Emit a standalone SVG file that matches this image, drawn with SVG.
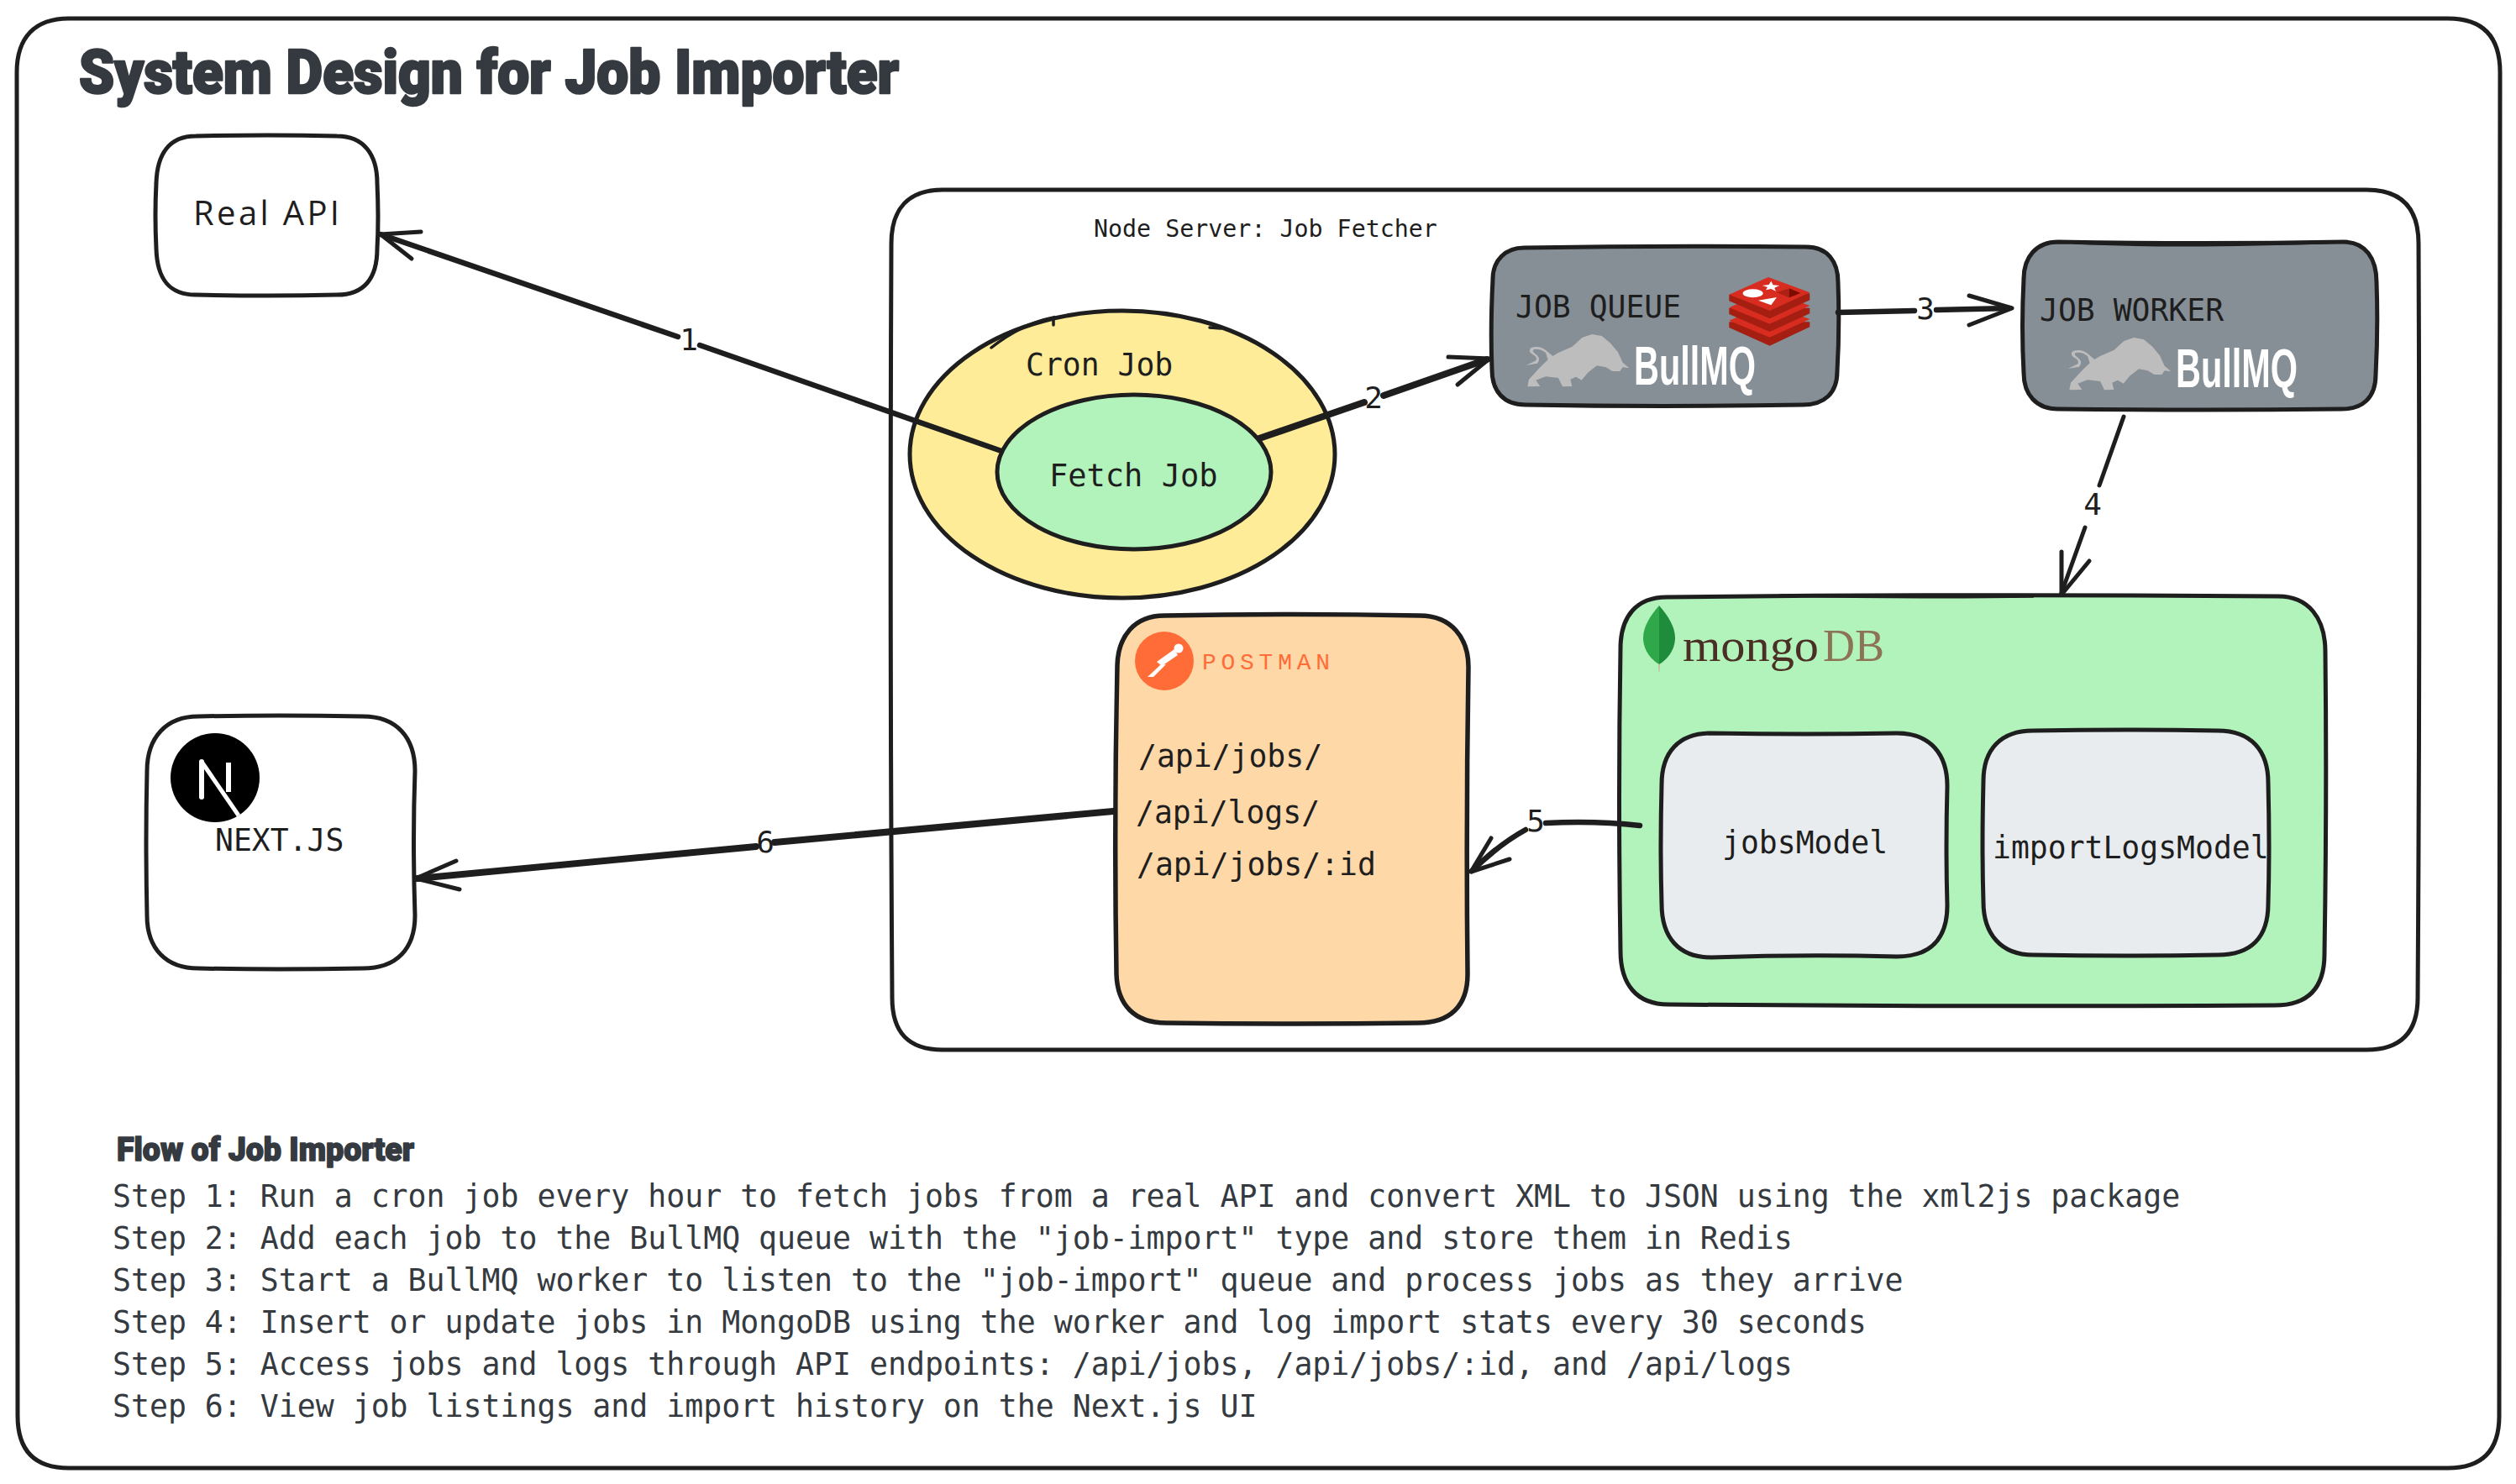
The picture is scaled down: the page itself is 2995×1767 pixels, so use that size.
<svg xmlns="http://www.w3.org/2000/svg" width="2995" height="1767" viewBox="0 0 2995 1767">
<style>
.box{stroke:#1e1e1e;stroke-width:5;fill:none;stroke-linejoin:round}
.conn{stroke:#1e1e1e;stroke-width:6.5;fill:none;stroke-linecap:round;stroke-linejoin:round}
.tip{stroke-width:5}
.thick{stroke-width:8}
.accent{stroke:#1e1e1e;stroke-width:3.5;fill:none;stroke-linecap:round}
.mono{font-family:"DejaVu Sans Mono","Liberation Mono",monospace;font-size:36.4px;fill:#1e1e1e}
.step{font-family:"DejaVu Sans Mono","Liberation Mono",monospace;font-size:36.5px;fill:#343a40}
.lbl{font-family:"DejaVu Sans Mono","Liberation Mono",monospace;font-size:36px;fill:#1e1e1e;text-anchor:middle}
.head{font-family:Roboto,"Liberation Sans",sans-serif;font-weight:900;fill:#343a40;stroke:#343a40;stroke-linejoin:round}
.bull{font-family:"Liberation Sans",Roboto,sans-serif;font-weight:700;font-size:65px;fill:#fff}
</style>
<defs>
<g id="bullmq">
<path fill="#bdbdbd" d="M50 345 L85 328 Q92 315 72 305 Q55 295 68 282 Q100 272 125 295 L145 312 L165 300 L215 278 L250 246 L285 234 L320 240 L350 265 L378 298 L395 335 L418 355 L395 352 L385 366 L358 366 L335 352 L303 346 L272 370 L248 398 L228 386 L208 395 L214 420 L180 421 L165 390 L120 385 L85 398 L100 420 L55 421 L60 395 L100 352 L128 325 L120 300 Q100 284 78 288 Q68 295 85 305 Q105 320 90 338 Z"/>
</g>
<g id="redislogo">
<path fill="#a41e11" d="M775 190V210L920 275L1063 208V190Z"/>
<path fill="#d82c20" d="M775 185L915 125L1063 180L920 245Z"/>
<path fill="#a41e11" d="M775 140V162L920 225L1063 160V140Z"/>
<path fill="#d82c20" d="M775 139L915 77L1063 132L920 197Z"/>
<path fill="#a41e11" d="M775 92V115L920 178L1063 112V88Z"/>
<path fill="#d82c20" d="M775 92L915 30L1063 85L920 150Z"/>
<ellipse cx="860" cy="88" rx="36" ry="15" fill="#fff"/>
<path fill="#fff" d="M925 44L932 58L955 60L937 68L942 80L925 72L906 76L912 66L894 60L917 57Z"/>
<path fill="#fff" d="M879 113L945 102L925 130Z"/>
<path fill="#ad2115" d="M945 85L990 70V103Z"/>
<path fill="#7a0c00" d="M990 70L1030 87L990 103Z"/>
</g>
</defs>
<rect width="2995" height="1767" fill="#fff"/>

<g id="frame">
<path class="box" d="M82 22 Q1500 19 2914 22 C2956 22 2976 44 2976 86 Q2978 880 2975 1686 C2975 1728 2954 1748 2914 1748 Q1500 1750 82 1748 C42 1748 21 1728 21 1686 Q18 880 20 86 C20 44 42 22 82 22 Z"/>
</g>

<g id="title">
<text class="head" x="94" y="111" font-size="72" stroke-width="2.5" textLength="976" lengthAdjust="spacingAndGlyphs">System Design for Job Importer</text>
</g>

<g id="real-api">
<path class="box" d="M233 162 Q320 160 401 162 C433 162 449 184 449 218 Q451 260 449 296 C449 332 433 351 401 351 Q320 353 233 351 C201 351 187 332 186 296 Q184 256 186 218 C187 184 201 162 233 162 Z"/>
<text x="230" y="268" font-family="'Open Sans',sans-serif" font-size="40" fill="#1e1e1e" textLength="174">Real API</text>
</g>

<g id="node-server">
<path class="box" d="M1122 226 Q1960 223 2817 226 C2859 226 2879 248 2879 290 Q2881 740 2878 1188 C2878 1230 2857 1250 2817 1250 Q1960 1252 1122 1250 C1082 1250 1062 1230 1062 1188 Q1059 740 1061 290 C1061 248 1082 226 1122 226 Z"/>
<text class="mono" x="1302" y="282" style="font-size:28.3px">Node Server: Job Fetcher</text>
</g>

<g id="cron-job">
<ellipse class="box" cx="1336" cy="541" rx="253" ry="171" style="fill:#ffec99"/>
<path class="accent" d="M1180 414Q1215 386 1254 378L1254 387M1440 390L1453 391"/>
<text class="mono" x="1221" y="447">Cron Job</text>
</g>

<g id="job-queue">
<path class="box" style="fill:#868e96" d="M1814 295 Q1980 292 2150 294 C2176 294 2188 312 2188 336 Q2190 390 2187 442 C2187 468 2172 482 2146 482 Q1980 485 1816 482 C1790 482 1776 466 1776 440 Q1774 390 1777 332 C1777 310 1792 295 1814 295 Z"/>
<text class="mono" x="1804" y="378">JOB QUEUE</text>
<use href="#redislogo" transform="translate(1800 320) scale(0.3333)"/>
<use href="#bullmq" transform="translate(1800 320) scale(0.3333)"/>
<text class="bull" x="1945" y="458" textLength="145" lengthAdjust="spacingAndGlyphs">BullMQ</text>
</g>

<g id="job-worker">
<path class="box" style="fill:#868e96" d="M2450 288 Q2620 291 2790 288 C2816 288 2829 308 2829 336 Q2831 390 2828 446 C2828 474 2812 487 2788 487 Q2620 489 2450 487 C2424 487 2409 470 2409 444 Q2406 390 2409 332 C2409 306 2424 288 2450 288 Z"/>
<path class="accent" d="M2470 289Q2600 295 2780 288"/>
<text class="mono" x="2428" y="382">JOB WORKER</text>
<use href="#bullmq" transform="translate(2445 324) scale(0.3333)"/>
<text class="bull" x="2590" y="461" textLength="145" lengthAdjust="spacingAndGlyphs">BullMQ</text>
</g>

<g id="mongodb">
<path class="box" style="fill:#b2f2bb" d="M1984 711 Q2340 707 2712 710 C2748 710 2768 736 2768 776 Q2770 950 2767 1136 C2767 1176 2748 1197 2708 1197 Q2340 1199 1986 1196 C1948 1196 1929 1172 1929 1132 Q1926 950 1929 772 C1929 734 1948 711 1984 711 Z"/>
<path class="accent" d="M2120 709Q2290 712 2420 710"/>
<path fill="#2fa84a" d="M1975 721 C1964 734 1956 746 1956 760 C1956 774 1966 786 1975 791Z"/>
<path fill="#1f8c3b" d="M1975 721 C1986 734 1994 746 1994 760 C1994 774 1984 786 1975 791Z"/>
<path fill="#c9b99a" d="M1974 791 L1976 791 L1975.5 800 L1974.5 800Z"/>
<text x="2003" y="787" font-family="'Liberation Serif',serif" font-size="54" fill="#4a2f24" textLength="162" lengthAdjust="spacingAndGlyphs">mongo</text>
<text x="2170" y="787" font-family="'Liberation Serif',serif" font-size="54" fill="#8c7355" textLength="73" lengthAdjust="spacingAndGlyphs">DB</text>
</g>

<g id="jobs-model">
<path class="box" style="fill:#e9ecef" d="M2037 873 Q2150 875 2258 873 C2298 873 2318 898 2318 936 Q2316 1010 2318 1078 C2318 1118 2298 1139 2258 1139 Q2150 1136 2037 1140 C1998 1140 1978 1116 1978 1076 Q1976 1010 1978 934 C1978 896 1998 873 2037 873 Z"/>
<text class="mono" x="2050" y="1016">jobsModel</text>
</g>

<g id="import-logs-model">
<path class="box" style="fill:#e9ecef" d="M2420 870 Q2530 868 2640 870 C2680 870 2700 894 2700 932 Q2702 1010 2700 1076 C2700 1116 2680 1137 2640 1137 Q2530 1139 2420 1137 C2382 1137 2361 1112 2361 1074 Q2359 1010 2361 930 C2361 892 2382 870 2420 870 Z"/>
<text class="mono" x="2372" y="1022">importLogsModel</text>
</g>

<g id="postman">
<path class="box" style="fill:#ffd8a8;stroke-width:5.5" d="M1386 733 Q1540 730 1690 733 C1728 733 1748 760 1748 794 Q1745 980 1747 1160 C1747 1198 1726 1218 1688 1218 Q1540 1220 1388 1218 C1350 1218 1330 1196 1329 1160 Q1326 980 1330 792 C1331 758 1350 733 1386 733 Z"/>
<circle cx="1386" cy="787" r="35" fill="#ff6c37"/>
<circle cx="1403" cy="772" r="5.5" fill="#fff"/>
<path fill="#fff" d="M1377 788L1398 773L1402 780L1383 793Z"/>
<path fill="#fff" d="M1381 792L1366 806L1373 806L1388 791Z"/>
<text x="1431" y="797" font-family="'Liberation Mono',monospace" font-size="28" fill="#ff6c37" textLength="152">POSTMAN</text>
<text class="mono" x="1355" y="913">/api/jobs/</text>
<text class="mono" x="1352" y="980">/api/logs/</text>
<text class="mono" x="1353" y="1042">/api/jobs/:id</text>
</g>

<g id="nextjs">
<path class="box" d="M236 853 Q330 851 432 853 C472 853 494 878 494 918 Q491 1000 494 1090 C494 1130 472 1153 432 1153 Q330 1155 236 1153 C198 1153 175 1130 175 1090 Q173 1000 175 918 C175 878 198 853 236 853 Z"/>
<circle cx="256" cy="926" r="53" fill="#000"/>
<path stroke="#fff" stroke-width="6" fill="none" stroke-linecap="round" d="M240 907V949"/>
<path stroke="#fff" stroke-width="5" fill="none" d="M240 907L284 971"/>
<path stroke="#fff" stroke-width="6" fill="none" stroke-linecap="butt" d="M272 908V943"/>
<text class="mono" x="256" y="1013">NEXT.JS</text>
</g>

<g id="fetch-job">
<ellipse class="box" cx="1350" cy="562" rx="163" ry="92" style="fill:#b2f2bb"/>
<text class="mono" x="1249" y="579" style="font-size:37px">Fetch Job</text>
</g>

<g id="connectors">
<path class="conn" d="M1192 537L833 411M807 401L453 279"/>
<path class="conn tip" d="M501 276L453 279L490 308"/>
<path class="conn thick" d="M1499 522L1624 479M1647 471L1770 428"/>
<path class="conn tip" d="M1724 425L1773 427L1735 458"/>
<path class="conn" d="M2188 372L2279 370M2305 369L2392 367"/>
<path class="conn tip" d="M2344 352L2395 367L2344 387"/>
<path class="conn tip" d="M2528 496L2499 578M2482 628L2454 706"/>
<path class="conn tip" d="M2454 657L2454 708L2487 668"/>
<path class="conn" d="M1952 983Q1900 977 1840 980M1816 988Q1785 1005 1752 1037"/>
<path class="conn tip" d="M1775 998L1751 1038L1797 1023"/>
<path class="conn thick" d="M1325 966L922 1003M900 1008L497 1046"/>
<path class="conn tip" d="M543 1025L495 1046L547 1059"/>
<text class="lbl" x="820" y="417">1</text>
<text class="lbl" x="1635" y="486">2</text>
<text class="lbl" x="2292" y="380">3</text>
<text class="lbl" x="2491" y="613">4</text>
<text class="lbl" x="1828" y="990">5</text>
<text class="lbl" x="911" y="1015">6</text>
</g>

<g id="flow-notes">
<text class="head" x="139" y="1382" font-size="38" stroke-width="1.5" textLength="354" lengthAdjust="spacingAndGlyphs">Flow of Job Importer</text>
<text class="step" x="134" y="1437">Step 1: Run a cron job every hour to fetch jobs from a real API and convert XML to JSON using the xml2js package</text>
<text class="step" x="134" y="1487">Step 2: Add each job to the BullMQ queue with the "job-import" type and store them in Redis</text>
<text class="step" x="134" y="1537">Step 3: Start a BullMQ worker to listen to the "job-import" queue and process jobs as they arrive</text>
<text class="step" x="134" y="1587">Step 4: Insert or update jobs in MongoDB using the worker and log import stats every 30 seconds</text>
<text class="step" x="134" y="1637">Step 5: Access jobs and logs through API endpoints: /api/jobs, /api/jobs/:id, and /api/logs</text>
<text class="step" x="134" y="1687">Step 6: View job listings and import history on the Next.js UI</text>
</g>
</svg>
